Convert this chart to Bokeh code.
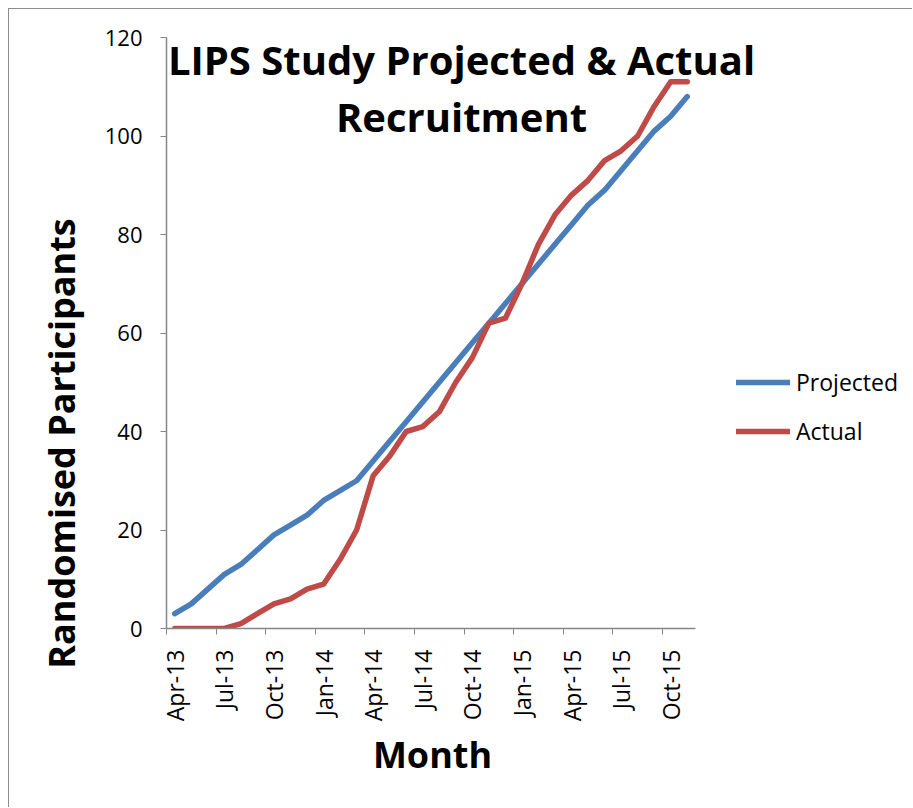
import numpy as np
from bokeh.plotting import figure
from bokeh.models import Range1d, FixedTicker, Label, Legend, LegendItem
from bokeh.embed import file_html
from bokeh.resources import INLINE

months = ["Apr-13", "May-13", "Jun-13", "Jul-13", "Aug-13", "Sep-13", "Oct-13", "Nov-13",
          "Dec-13", "Jan-14", "Feb-14", "Mar-14", "Apr-14", "May-14", "Jun-14", "Jul-14",
          "Aug-14", "Sep-14", "Oct-14", "Nov-14", "Dec-14", "Jan-15", "Feb-15", "Mar-15",
          "Apr-15", "May-15", "Jun-15", "Jul-15", "Aug-15", "Sep-15", "Oct-15", "Nov-15"]
projected = [3, 5, 8, 11, 13, 16, 19, 21, 23, 26, 28, 30, 34, 38, 42, 46,
             50, 54, 58, 62, 66, 70, 74, 78, 82, 86, 89, 93, 97, 101, 104, 108]
actual = [0, 0, 0, 0, 1, 3, 5, 6, 8, 9, 14, 20, 31, 35, 40, 41,
          44, 50, 55, 62, 63, 70, 78, 84, 88, 91, 95, 97, 100, 106, 111, 111]
y_ticks = [0, 20, 40, 60, 80, 100, 120]
y_max = 120
label_every = 3

title_lines = ["LIPS Study Projected & Actual", "Recruitment"]
x_title = "Month"
y_title = "Randomised Participants"

FONT = "Open Sans"
BLUE = "#4A7EBB"
RED = "#BE4B48"
AXIS = "#868686"

# layout (pixels)
W, H = 904, 799
BL, BR, BT, BB = 157, 8, 11, 180
frame_w = W - BL - BR
frame_h = H - BT - BB
axis_px_w = 529      # pixel length of the category axis
axis_px_h = 591      # pixel length of the value axis

n = len(months)
x = list(range(n))
x_end = -0.5 + frame_w * n / axis_px_w
y_end = frame_h * y_max / axis_px_h

p = figure(width=W, height=H, output_backend="svg", toolbar_location=None,
           x_range=Range1d(-0.5, x_end), y_range=Range1d(0, y_end),
           min_border_left=BL, min_border_right=BR, min_border_top=BT, min_border_bottom=BB)
p.styles = {"margin-left": "8px", "margin-top": "8px",
            "border-left": "1px solid #8c8c8c", "border-top": "1px solid #8c8c8c"}
p.outline_line_color = None
p.xgrid.visible = False
p.ygrid.visible = False
p.background_fill_color = "white"
p.border_fill_color = "white"

r1 = p.line(x, projected, line_color=BLUE, line_width=5.5, line_join="round", line_cap="round")
r2 = p.line(x, actual, line_color=RED, line_width=5.5, line_join="round", line_cap="round")

# x axis
xa = p.xaxis[0]
xa.bounds = (-0.5, n - 0.5)
major = x[::label_every]
minor = [i - 0.5 for i in x[::label_every]]
xa.ticker = FixedTicker(ticks=major, minor_ticks=minor)
xa.major_label_overrides = {i: months[i] for i in major}
xa.major_label_orientation = np.pi / 2
xa.major_tick_out = 0
xa.major_tick_in = 0
xa.major_tick_line_color = None
xa.minor_tick_out = 6
xa.minor_tick_in = 0
xa.minor_tick_line_color = AXIS
xa.axis_line_color = AXIS
xa.axis_line_width = 1.5
xa.major_label_standoff = 15
xa.major_label_text_font = FONT
xa.major_label_text_font_size = "23px"
xa.major_label_text_color = "black"

# x axis title, centred under the category axis
p.add_layout(Label(x=266, y=19, x_units="screen", y_units="screen", text=x_title,
                   text_align="center", text_baseline="middle",
                   text_font=FONT, text_font_style="bold", text_font_size="36px",
                   text_color="black"), "below")

# y axis
ya = p.yaxis[0]
ya.bounds = (0, y_max)
ya.ticker = FixedTicker(ticks=y_ticks)
ya.major_tick_out = 6
ya.major_tick_in = 0
ya.minor_tick_line_color = None
ya.major_tick_line_color = AXIS
ya.axis_line_color = AXIS
ya.axis_line_width = 1.5
ya.major_label_standoff = 18
ya.major_label_text_font = FONT
ya.major_label_text_font_size = "22px"
ya.major_label_text_color = "black"

# y axis title (offset below center as in the original)
p.add_layout(Label(x=9, y=185, x_units="screen", y_units="screen", text=y_title,
                   angle=np.pi / 2, text_align="center", text_baseline="middle",
                   text_font=FONT, text_font_style="bold", text_font_size="36px",
                   text_color="black"), "left")

# title (overlaid on the plot)
for i, t in enumerate(title_lines):
    p.add_layout(Label(x=295, y=569 - 57 * i, x_units="screen", y_units="screen", text=t,
                       text_align="center", text_baseline="middle",
                       text_font=FONT, text_font_style="bold", text_font_size="40px",
                       text_color="black"))

legend = Legend(items=[LegendItem(label="Projected", renderers=[r1]),
                       LegendItem(label="Actual", renderers=[r2])],
                location=(570, 181), orientation="vertical")
legend.glyph_width = 54
legend.glyph_height = 20
legend.label_height = 20
legend.spacing = 17
legend.label_standoff = 6
legend.padding = 0
legend.margin = 0
legend.border_line_color = None
legend.background_fill_alpha = 0
legend.label_text_font = FONT
legend.label_text_font_size = "23px"
legend.label_text_color = "black"
p.add_layout(legend, "center")

open("out.html", "w").write(file_html(p, INLINE))
